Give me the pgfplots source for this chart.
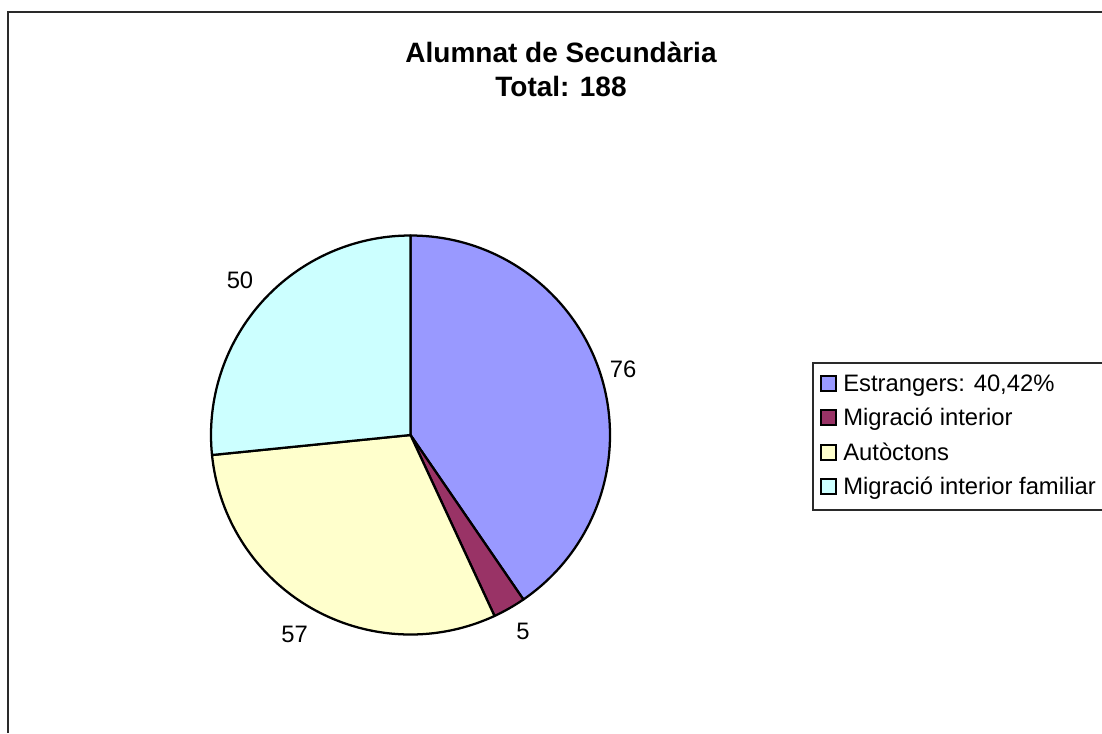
\documentclass[border=0pt]{standalone}
\usepackage{pgfplots}
\pgfplotsset{compat=1.18}
\usepackage{pgfplotstable}
\usepackage{fontspec}
\setmainfont{Liberation Sans}
\definecolor{cA}{HTML}{9999FF}
\definecolor{cB}{HTML}{993366}
\definecolor{cC}{HTML}{FFFFCC}
\definecolor{cD}{HTML}{CCFFFF}
\definecolor{frame}{HTML}{2A2A2A}

\pgfplotstableread{
label value
Estrangers 76
MigInterior 5
Autoctons 57
MigFamiliar 50
}\piedata

\newcommand{\lbl}{\fontsize{17.85}{20}\selectfont}
\newcommand{\ttl}{\fontsize{21}{25}\selectfont\bfseries}

\begin{document}
\begin{tikzpicture}
\pgfplotstablegetelem{0}{value}\of\piedata \edef\va{\pgfplotsretval}
\pgfplotstablegetelem{1}{value}\of\piedata \edef\vb{\pgfplotsretval}
\pgfplotstablegetelem{2}{value}\of\piedata \edef\vc{\pgfplotsretval}
\pgfplotstablegetelem{3}{value}\of\piedata \edef\vd{\pgfplotsretval}
\pgfmathsetmacro\tot{\va+\vb+\vc+\vd}
\pgfmathsetmacro\aA{90}
\pgfmathsetmacro\aB{\aA-360*(\va/\tot)}
\pgfmathsetmacro\aC{\aB-360*(\vb/\tot)}
\pgfmathsetmacro\aD{\aC-360*(\vc/\tot)}
\pgfmathsetmacro\aE{\aD-360*(\vd/\tot)}
\def\R{149.625pt}
\begin{axis}[
  scale only axis, width=826.5pt, height=549.75pt,
  xmin=0, xmax=1102, ymin=0, ymax=733, y dir=reverse,
  hide axis, clip=false]
  % background
  \fill[white] (axis cs:0,0) rectangle (axis cs:1102,733);
  % chart frame (left and top)
  \draw[frame, line width=2pt] (axis cs:8,733) -- (axis cs:8,12) -- (axis cs:1102,12);
  % pie slices
  \filldraw[fill=cA, draw=black, line width=1.7pt, line join=round]
    (axis cs:410.5,435) -- ++(\aA:\R) arc[start angle=\aA, end angle=\aB, radius=\R] -- cycle;
  \filldraw[fill=cB, draw=black, line width=1.7pt, line join=round]
    (axis cs:410.5,435) -- ++(\aB:\R) arc[start angle=\aB, end angle=\aC, radius=\R] -- cycle;
  \filldraw[fill=cC, draw=black, line width=1.7pt, line join=round]
    (axis cs:410.5,435) -- ++(\aC:\R) arc[start angle=\aC, end angle=\aD, radius=\R] -- cycle;
  \filldraw[fill=cD, draw=black, line width=1.7pt, line join=round]
    (axis cs:410.5,435) -- ++(\aD:\R) arc[start angle=\aD, end angle=\aE, radius=\R] -- cycle;
  % data labels
  \node[anchor=base, inner sep=0pt] at (axis cs:623,377) {\lbl \va};
  \node[anchor=base, inner sep=0pt] at (axis cs:523,639) {\lbl \vb};
  \node[anchor=base, inner sep=0pt] at (axis cs:294.5,642) {\lbl \vc};
  \node[anchor=base, inner sep=0pt] at (axis cs:240,288) {\lbl \vd};
  % title
  \node[anchor=base, inner sep=0pt] at (axis cs:561,62) {\ttl Alumnat de Secundària};
  \node[anchor=base, inner sep=0pt] at (axis cs:561,96) {\ttl Total: 188};
  % legend
  \draw[frame, line width=1pt] (axis cs:1102,363) -- (axis cs:813,363) -- (axis cs:813,510) -- (axis cs:1102,510);
  \filldraw[fill=cA, draw=black, line width=1.5pt] (axis cs:821,375.5) rectangle (axis cs:836,390.5);
  \filldraw[fill=cB, draw=black, line width=1.5pt] (axis cs:821,410) rectangle (axis cs:836,425);
  \filldraw[fill=cC, draw=black, line width=1.5pt] (axis cs:821,444.5) rectangle (axis cs:836,459.5);
  \filldraw[fill=cD, draw=black, line width=1.5pt] (axis cs:821,479) rectangle (axis cs:836,494);
  \node[anchor=base west, inner sep=0pt] at (axis cs:843,391) {\lbl Estrangers: 40,42\%};
  \node[anchor=base west, inner sep=0pt] at (axis cs:843,425.5) {\lbl Migració interior};
  \node[anchor=base west, inner sep=0pt] at (axis cs:843,460) {\lbl Autòctons};
  \node[anchor=base west, inner sep=0pt] at (axis cs:843,494.5) {\lbl Migració interior familiar};
\end{axis}
\pgfresetboundingbox
\path[use as bounding box] (current axis.south west) rectangle (current axis.north east);
\end{tikzpicture}
\end{document}
